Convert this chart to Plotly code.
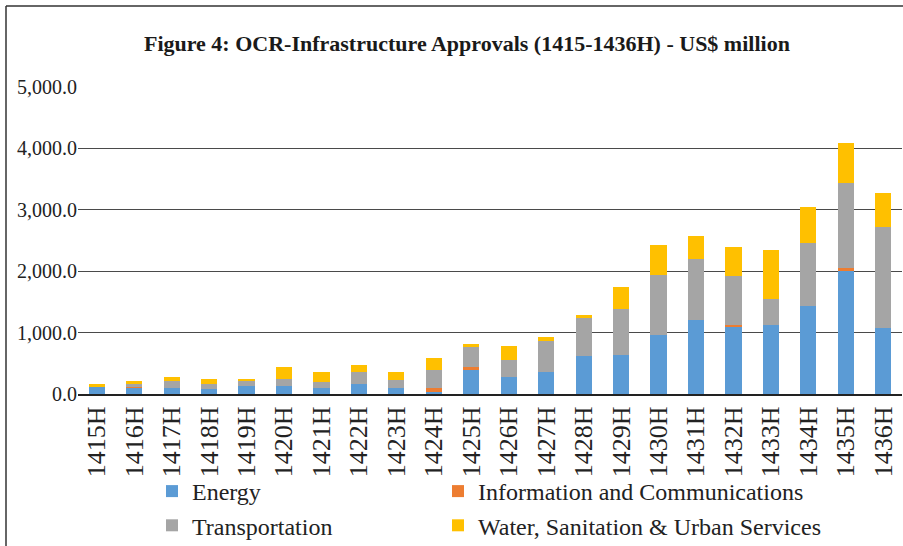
import plotly.graph_objects as go

years = ["1415H","1416H","1417H","1418H","1419H","1420H","1421H","1422H","1423H","1424H","1425H",
         "1426H","1427H","1428H","1429H","1430H","1431H","1432H","1433H","1434H","1435H","1436H"]
energy = [123, 90, 90, 74, 123, 123, 90, 155, 90, 36, 385, 270, 351, 614, 630, 969, 1203, 1088, 1121, 1432, 2005, 1072]
info = [0, 38, 0, 0, 0, 0, 0, 0, 0, 54, 49, 0, 0, 0, 0, 0, 0, 33, 0, 0, 54, 0]
transport = [0, 27, 114, 81, 81, 114, 98, 196, 146, 295, 327, 278, 508, 622, 753, 970, 998, 802, 426, 1031, 1375, 1653]
water = [32, 49, 66, 82, 33, 196, 163, 115, 115, 196, 49, 229, 65, 48, 360, 491, 376, 475, 802, 589, 649, 556]

series = [
    ("Energy", energy, "#5B9BD5", "legend"),
    ("Information and Communications", info, "#ED7D31", "legend2"),
    ("Transportation", transport, "#A5A5A5", "legend"),
    ("Water, Sanitation & Urban Services", water, "#FFC000", "legend2"),
]

fig = go.Figure()
for name, vals, color, lg in series:
    fig.add_trace(go.Bar(x=years, y=vals, name=name, legend=lg, legendgroup=name,
                         marker=dict(color=color, line=dict(width=0))))

serif = "Liberation Serif"
W, L, T, B = 903, 78, 87, 152
PH = 546 - T - B  # plot height in px


def py(p):
    """pixel y -> paper y"""
    return (546 - B - p) / PH


def px(p):
    return (p - L) / (W - L - 1)


legend_common = dict(orientation="v", yanchor="top", xanchor="left", y=py(469),
                     font=dict(family=serif, size=24, color="#222"),
                     tracegroupgap=0, bgcolor="rgba(0,0,0,0)", borderwidth=0)

fig.update_layout(
    width=W, height=546,
    barmode="stack", bargap=0.57,
    plot_bgcolor="white", paper_bgcolor="white",
    margin=dict(l=L, r=1, t=T, b=B, autoexpand=False),
    title=dict(text="<b>Figure 4: OCR-Infrastructure Approvals (1415-1436H) - US$ million</b>",
               x=0.472, xref="paper", xanchor="center", y=0.92, yanchor="middle",
               font=dict(family=serif, size=22, color="#1a1a1a")),
    font=dict(family=serif, color="#222"),
    showlegend=True,
    legend=dict(x=px(152), **legend_common),
    legend2=dict(x=px(438), **legend_common),
    yaxis=dict(range=[0, 5000], dtick=1000, tickformat=",.1f", showgrid=True,
               gridcolor="#4a4a4a", gridwidth=1.3, ticks="", automargin=False,
               tickfont=dict(family=serif, size=20, color="#222"),
               zeroline=False, showline=False),
    xaxis=dict(tickangle=-90, tickfont=dict(family=serif, size=26, color="#222"), automargin=False,
               showline=True, linecolor="#222", linewidth=2, ticks=""),
    shapes=[
        dict(type="line", xref="paper", yref="paper", x0=px(6), x1=px(6), y0=py(560), y1=py(6),
             line=dict(color="#333", width=1.5), layer="below"),
        dict(type="line", xref="paper", yref="paper", x0=px(6), x1=px(920), y0=py(6), y1=py(6),
             line=dict(color="#333", width=1.5), layer="below"),
    ],
)

fig.write_html("out.html", config={"displayModeBar": False},
               post_script="document.body.style.margin='0';")
